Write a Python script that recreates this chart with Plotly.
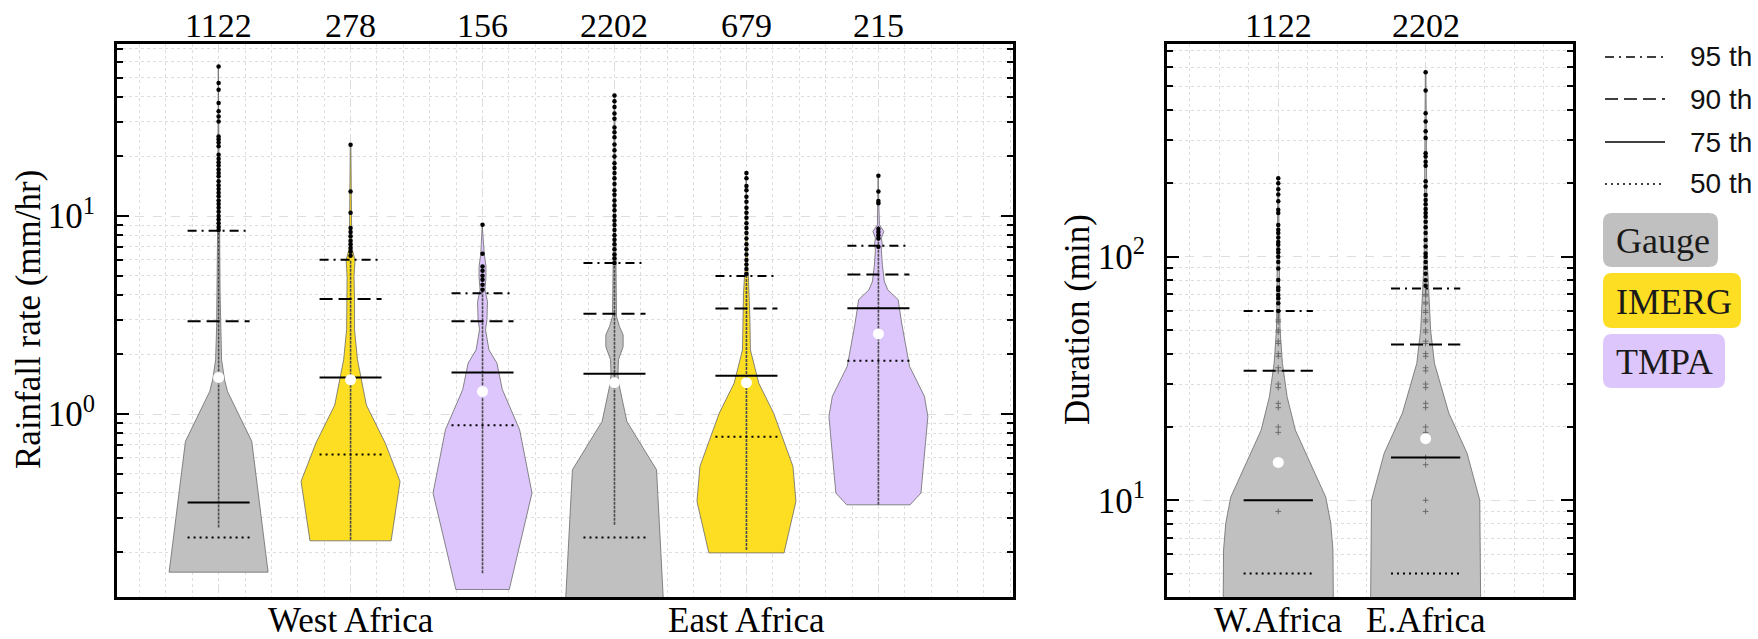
import plotly.graph_objects as go

W, H = 1758, 639

# ------------------------------------------------------------------ data
# Left panel: rainfall rate (mm/hr)
rate_counts = [1122, 278, 156, 2202, 679, 215]
rate_products = ["Gauge", "IMERG", "TMPA", "Gauge", "IMERG", "TMPA"]
rate_positions = [1, 2, 3, 4, 5, 6]
rate_region_labels = ["West Africa", "East Africa"]
rate_region_positions = [2, 5]

# violin outline: values (mm/hr) and relative density (max = 1)
rate_profile_values = [
    [0.159, 0.728, 1.30, 1.49, 1.88, 2.77, 4.1, 8.9, 56.6],
    [0.229, 0.457, 0.714, 1.11, 1.88, 2.67, 3.8, 4.95, 6.0, 6.9, 22.9],
    [0.130, 0.399, 0.833, 1.33, 1.81, 2.11, 2.67, 3.0, 3.7, 4.24, 4.95, 5.56, 6.45, 9.04],
    [0.10, 0.523, 0.918, 1.38, 1.58, 1.88, 2.19, 2.51, 2.77, 3.11, 5.8, 8.0, 40.6],
    [0.199, 0.362, 0.544, 1.01, 1.43, 2.11, 3.0, 4.0, 4.97, 5.5, 16.5],
    [0.348, 0.399, 0.973, 1.23, 1.74, 2.88, 3.78, 4.24, 4.68, 5.68, 6.76, 7.16, 7.74, 8.36, 9.04, 16.0],
]
rate_profile_density = [
    [1.0, 0.67, 0.18, 0.12, 0.06, 0.04, 0.03, 0.02, 0.006],
    [0.82, 1.0, 0.70, 0.32, 0.14, 0.08, 0.08, 0.07, 0.09, 0.025, 0.006],
    [0.54, 1.0, 0.75, 0.40, 0.29, 0.13, 0.06, 0.09, 0.10, 0.05, 0.07, 0.07, 0.035, 0.006],
    [1.0, 0.85, 0.25, 0.10, 0.07, 0.08, 0.175, 0.175, 0.10, 0.04, 0.03, 0.02, 0.006],
    [0.76, 1.0, 0.94, 0.55, 0.25, 0.08, 0.07, 0.06, 0.04, 0.02, 0.006],
    [0.64, 0.86, 1.0, 0.93, 0.63, 0.47, 0.40, 0.19, 0.12, 0.08, 0.06, 0.08, 0.06, 0.11, 0.02, 0.006],
]
rate_strip_low = [0.267, 0.232, 0.157, 0.276, 0.206, 0.348]
rate_strip_high = [8.5, 6.0, 4.2, 5.8, 5.0, 9.0]
rate_outliers = [
    [57, 47, 43.4, 37.2, 33.8, 31.8, 30.0, 25.2, 24.4, 23.5, 22.5, 20.4, 19.5, 18.7, 18.0,
     17.2, 16.5, 15.9, 15.0, 14.3, 13.7, 13.1, 12.6, 12.0, 11.5, 11.0, 10.5, 10.0, 9.6, 9.2, 8.8, 8.5],
    [22.9, 13.3, 10.4, 8.7, 8.3, 7.9, 7.5, 7.2, 6.9, 6.6, 6.3],
    [9.04, 6.45, 5.56, 5.3, 5.0, 4.77, 4.5, 4.24],
    [40.6, 38, 35.5, 33, 31, 28, 26.5, 25, 23, 21.5, 20, 18.5, 17.5, 16.5, 15.5, 14.5, 13.5,
     12.8, 12, 11.3, 10.7, 10, 9.5, 9, 8.5, 8, 7.6, 7.2, 6.8, 6.4, 6.1, 5.8],
    [16.5, 15.5, 14.2, 13.5, 12.5, 11.8, 11.0, 10.4, 9.8, 9.2, 8.7, 8.2, 7.7, 7.2, 6.8, 6.4,
     6.0, 5.7, 5.4, 5.1],
    [16.0, 13.3, 11.9, 11.6, 8.6, 8.3, 8.0, 7.7, 7.0],
]
rate_p50 = [0.238, 0.625, 0.879, 0.238, 0.768, 1.86]
rate_p75 = [0.358, 1.53, 1.62, 1.60, 1.56, 3.42]
rate_p90 = [2.94, 3.81, 2.94, 3.21, 3.41, 5.07]
rate_p95 = [8.43, 6.01, 4.08, 5.79, 4.98, 7.08]
rate_mean = [1.53, 1.49, 1.30, 1.44, 1.44, 2.54]

# Right panel: duration (min), gauge only
dur_counts = [1122, 2202]
dur_labels = ["W.Africa", "E.Africa"]
dur_positions = [1, 2]
dur_profile_values = [
    [3.0, 6.25, 8.05, 10.3, 14.2, 19.4, 26.6, 36.5, 50, 60, 210],
    [3.0, 10.0, 15.6, 22.8, 36.5, 50, 74, 97, 571],
]
dur_profile_density = [
    [1.0, 0.99, 0.95, 0.86, 0.58, 0.31, 0.16, 0.075, 0.033, 0.027, 0.006],
    [1.0, 0.98, 0.75, 0.42, 0.16, 0.09, 0.055, 0.027, 0.006],
]
dur_inner = [
    [9, 19, 20, 24, 25, 29, 30, 34, 35, 39, 40, 44, 45, 49, 50, 54, 55],
    [9, 10, 14, 15, 19, 20, 24, 25, 29, 30, 34, 35, 39, 40, 44, 45, 49, 50, 54, 55, 59, 60,
     64, 65, 69, 70],
]
dur_outliers = [
    [210, 200, 189, 180, 169, 156, 151, 135, 129, 125, 120, 115, 112, 107, 104, 100, 95, 89.5,
     80.2, 74.8, 73, 69.6, 67.5, 64.4, 59.8],
    [571, 481, 388, 359, 327, 307, 266, 258, 245, 236, 204, 194, 179, 171, 164, 157, 151, 146,
     139, 132, 125, 117, 110, 103, 100, 95, 90, 85, 80, 76],
]
dur_p50 = [5.0, 5.0]
dur_p75 = [10.0, 15.0]
dur_p90 = [34.0, 43.6]
dur_p95 = [59.8, 74.0]
dur_mean = [14.3, 17.9]

legend_pct = ["95 th", "90 th", "75 th", "50 th"]
products = ["Gauge", "IMERG", "TMPA"]

# ------------------------------------------------------------------ style
COLORS = {"Gauge": "#c0c0c0", "IMERG": "#fdde22", "TMPA": "#ddc6fb"}
SERIF = "Liberation Serif, Times New Roman, serif"
SANS = "Liberation Sans, Arial, sans-serif"
HALF = 0.375        # max half-width of a violin, x units
PHALF = 0.235       # half-length of percentile lines
DASH = {"95 th": "9px,5px,2px,5px", "90 th": "13px,6px", "75 th": "solid", "50 th": "2px,4px"}

# pixel layout
L_X0, L_X1 = 117, 1013
R_X0, R_X1 = 1167, 1573
Y_TOP, Y_BOT = 44, 597


def px(x):
    return x / W


def py(y):
    return 1 - y / H


fig = go.Figure()


def add_violin(xa, ya, pos, vals, dens, color):
    xr = [pos + d * HALF for d in dens]
    xl = [pos - d * HALF for d in reversed(dens)]
    fig.add_trace(go.Scatter(
        x=xr + xl + [xr[0]], y=list(vals) + list(reversed(vals)) + [vals[0]],
        mode="lines", fill="toself", fillcolor=color,
        line=dict(color="#6a6a6a", width=0.8),
        xaxis=xa, yaxis=ya, showlegend=False, hoverinfo="skip"))


def add_pct_lines(xa, ya, pos, p50, p75, p90, p95):
    for key, v in (("50 th", p50), ("75 th", p75), ("90 th", p90), ("95 th", p95)):
        fig.add_trace(go.Scatter(
            x=[pos - PHALF, pos + PHALF], y=[v, v], mode="lines",
            line=dict(color="black", width=2, dash=DASH[key]),
            xaxis=xa, yaxis=ya, showlegend=False, hoverinfo="skip"))


def add_points(xa, ya, pos, vals, color, size, symbol="circle"):
    fig.add_trace(go.Scatter(
        x=[pos] * len(vals), y=vals, mode="markers",
        marker=dict(color=color, size=size, symbol=symbol, line=dict(width=0)),
        xaxis=xa, yaxis=ya, showlegend=False, hoverinfo="skip"))


# left panel
for i, pos in enumerate(rate_positions):
    add_violin("x", "y", pos, rate_profile_values[i], rate_profile_density[i],
               COLORS[rate_products[i]])
    fig.add_trace(go.Scatter(
        x=[pos, pos], y=[rate_strip_low[i], rate_strip_high[i]], mode="lines",
        line=dict(color="#4a4a4a", width=1.6, dash="3px,1px"),
        xaxis="x", yaxis="y", showlegend=False, hoverinfo="skip"))
    add_points("x", "y", pos, rate_outliers[i], "black", 4.5)
    add_pct_lines("x", "y", pos, rate_p50[i], rate_p75[i], rate_p90[i], rate_p95[i])
    add_points("x", "y", pos, [rate_mean[i]], "white", 11)

# right panel
for i, pos in enumerate(dur_positions):
    add_violin("x2", "y2", pos, dur_profile_values[i], dur_profile_density[i], COLORS["Gauge"])
    add_points("x2", "y2", pos, dur_inner[i], "#6a6a6a", 4, "cross-thin-open")
    fig.add_trace(go.Scatter(
        x=[pos, pos], y=[dur_inner[i][-1], dur_outliers[i][-1]], mode="lines",
        line=dict(color="#6a6a6a", width=1.4),
        xaxis="x2", yaxis="y2", showlegend=False, hoverinfo="skip"))
    add_points("x2", "y2", pos, dur_outliers[i], "black", 4.5)
    add_pct_lines("x2", "y2", pos, dur_p50[i], dur_p75[i], dur_p90[i], dur_p95[i])
    add_points("x2", "y2", pos, [dur_mean[i]], "white", 11)

# ------------------------------------------------------------------ axes
GRID = "#dedede"
rate_minor = [m * 10 ** e for e in range(-1, 2) for m in range(2, 10)]
dur_minor = [m * 10 ** e for e in range(0, 3) for m in range(2, 10)]

common_x = dict(showline=True, linewidth=3, linecolor="black", mirror=True,
                ticks="", showticklabels=False, zeroline=False,
                showgrid=True, gridcolor=GRID, griddash="dash", gridwidth=1,
                minor=dict(dtick=0.2, tick0=0, showgrid=True, gridcolor=GRID,
                           griddash="dot", gridwidth=1, ticks=""))
common_y = dict(type="log", showline=True, linewidth=3, linecolor="black", mirror="ticks",
                ticks="inside", ticklen=12, tickwidth=2, tickcolor="black",
                zeroline=False, showgrid=True, gridcolor=GRID, griddash="dash", gridwidth=1,
                tickfont=dict(family=SERIF, size=35, color="black"),
                ticklabelstandoff=12)

fig.update_layout(
    width=W, height=H, margin=dict(l=0, r=0, t=0, b=0),
    paper_bgcolor="white", plot_bgcolor="white",
    xaxis=dict(domain=[px(L_X0), px(L_X1)], range=[0.23, 7.02],
               tickvals=rate_positions, anchor="y", **common_x),
    xaxis2=dict(domain=[px(R_X0), px(R_X1)], range=[0.245, 3.0],
                tickvals=dur_positions, anchor="y2", **common_x),
    yaxis=dict(domain=[py(Y_BOT), py(Y_TOP)], range=[-0.924, 1.869], anchor="x",
               tickvals=[1, 10], ticktext=["10<sup>0</sup>", "10<sup>1</sup>"],
               minor=dict(tickvals=rate_minor, ticks="inside", ticklen=6, tickwidth=1.5,
                          tickcolor="black", showgrid=True, gridcolor=GRID,
                          griddash="dot", gridwidth=1),
               **common_y),
    yaxis2=dict(domain=[py(Y_BOT), py(Y_TOP)], range=[0.603, 2.873], anchor="x2",
                tickvals=[10, 100], ticktext=["10<sup>1</sup>", "10<sup>2</sup>"],
                minor=dict(tickvals=dur_minor, ticks="inside", ticklen=6, tickwidth=1.5,
                           tickcolor="black", showgrid=True, gridcolor=GRID,
                           griddash="dot", gridwidth=1),
                **common_y),
    showlegend=False,
)

ann = []
for pos, c in zip(rate_positions, rate_counts):
    ann.append(dict(x=pos, xref="x", y=py(25), yref="paper", text=str(c), showarrow=False,
                    yanchor="middle", font=dict(family=SERIF, size=34, color="black")))
for pos, c in zip(dur_positions, dur_counts):
    ann.append(dict(x=pos, xref="x2", y=py(25), yref="paper", text=str(c), showarrow=False,
                    yanchor="middle", font=dict(family=SERIF, size=34, color="black")))
for pos, t in zip(rate_region_positions, rate_region_labels):
    ann.append(dict(x=pos, xref="x", y=py(620), yref="paper", text=t, showarrow=False,
                    yanchor="middle", font=dict(family=SERIF, size=35, color="black")))
for pos, t in zip(dur_positions, dur_labels):
    ann.append(dict(x=pos, xref="x2", y=py(620), yref="paper", text=t, showarrow=False,
                    yanchor="middle", font=dict(family=SERIF, size=35, color="black")))
ann.append(dict(x=px(28), y=py(320), xref="paper", yref="paper", text="Rainfall rate (mm/hr)",
                textangle=-90, showarrow=False, xanchor="center", yanchor="middle",
                font=dict(family=SERIF, size=35, color="black")))
ann.append(dict(x=px(1077), y=py(320), xref="paper", yref="paper", text="Duration (min)",
                textangle=-90, showarrow=False, xanchor="center", yanchor="middle",
                font=dict(family=SERIF, size=35, color="black")))

# legend: percentile line styles
shapes = []
leg_y = [57, 99, 142, 184]
for lab, yy in zip(legend_pct, leg_y):
    shapes.append(dict(type="line", xref="paper", yref="paper", x0=px(1605), x1=px(1665),
                       y0=py(yy), y1=py(yy), line=dict(color="black", width=1.6, dash=DASH[lab])))
    ann.append(dict(x=px(1688), y=py(yy), xref="paper", yref="paper", text=lab, showarrow=False,
                    xanchor="left", yanchor="middle", font=dict(family=SANS, size=28, color="#111")))


def rounded_rect(x0, y0, x1, y1, r):
    X0, X1 = px(x0), px(x1)
    Y0, Y1 = py(y0), py(y1)
    rx, ry = r / W, r / H
    return (f"M {X0 + rx},{Y0} L {X1 - rx},{Y0} Q {X1},{Y0} {X1},{Y0 - ry} "
            f"L {X1},{Y1 + ry} Q {X1},{Y1} {X1 - rx},{Y1} L {X0 + rx},{Y1} "
            f"Q {X0},{Y1} {X0},{Y1 + ry} L {X0},{Y0 - ry} Q {X0},{Y0} {X0 + rx},{Y0} Z")


box_geom = {"Gauge": (1603, 213, 1718, 267), "IMERG": (1603, 273, 1741, 328),
            "TMPA": (1603, 334, 1725, 388)}
for p in products:
    x0, y0, x1, y1 = box_geom[p]
    shapes.append(dict(type="path", xref="paper", yref="paper", path=rounded_rect(x0, y0, x1, y1, 9),
                       fillcolor=COLORS[p], line=dict(width=0), layer="above"))
    ann.append(dict(x=px(x0 + 11), y=py((y0 + y1) / 2 + 1), xref="paper", yref="paper", text=p,
                    showarrow=False, xanchor="left", yanchor="middle",
                    font=dict(family=SERIF, size=36, color="#1a1a1a")))

fig.update_layout(annotations=ann, shapes=shapes)
fig.write_html("out.html")
